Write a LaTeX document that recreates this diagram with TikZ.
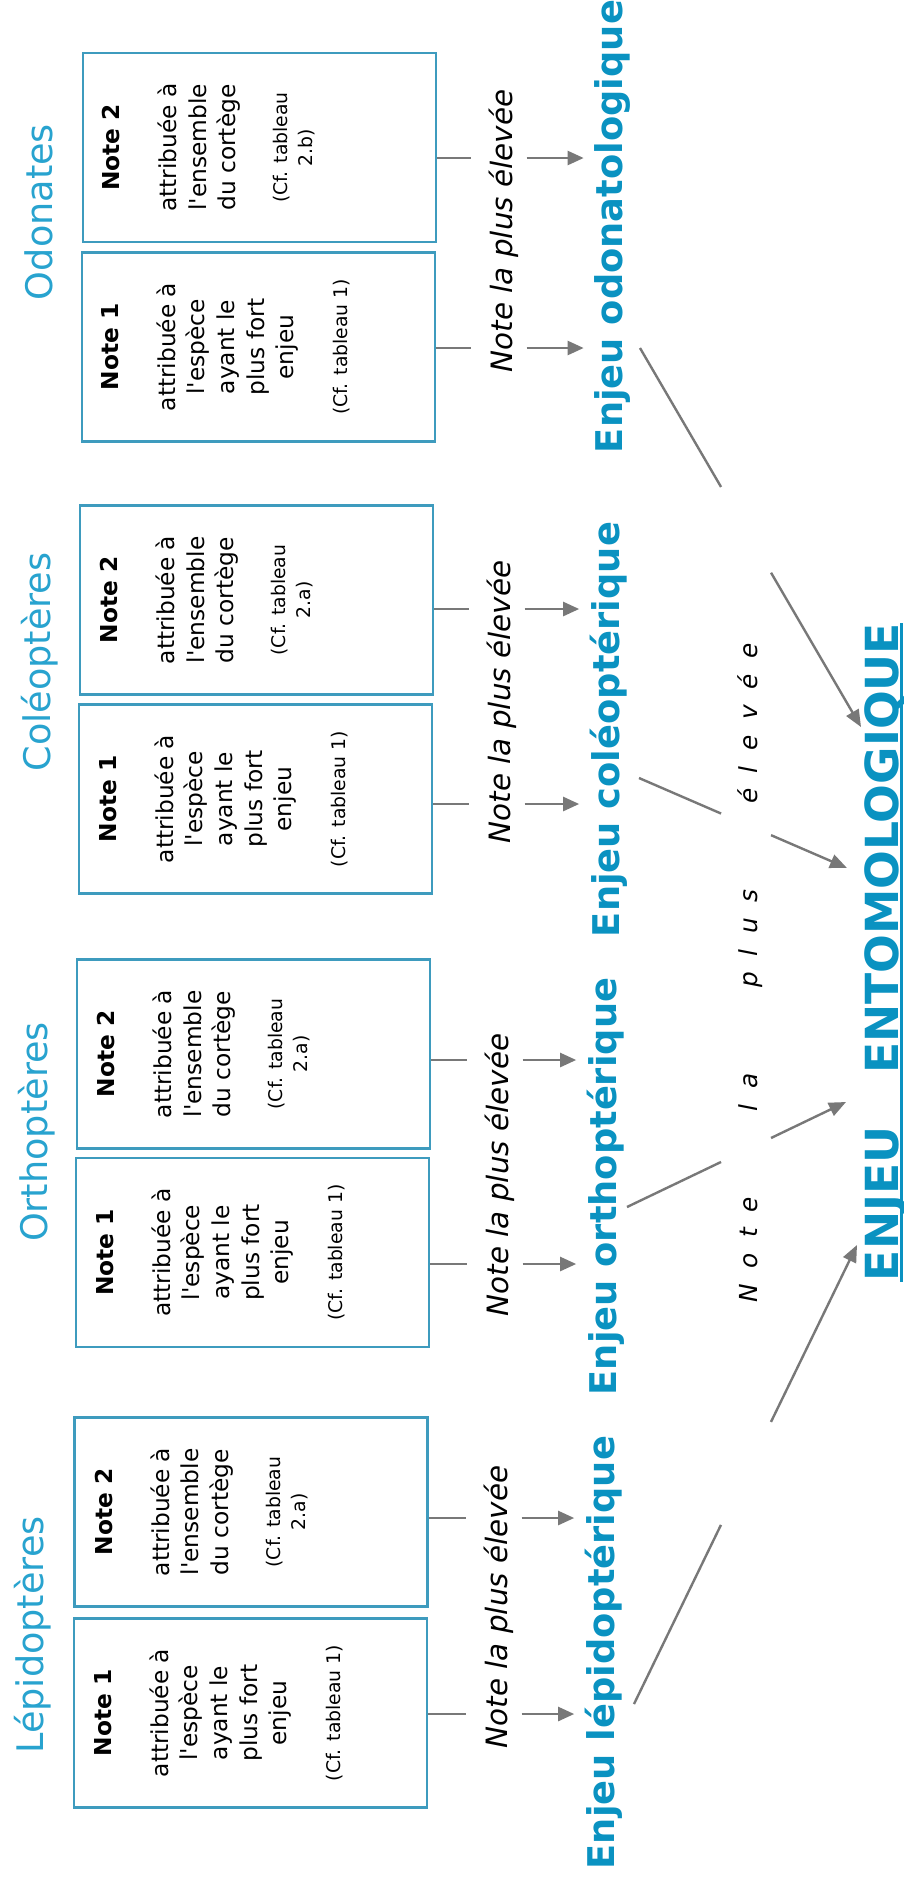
\documentclass[tikz,border=0pt]{standalone}
\usepackage{fontspec}
\setmainfont{DejaVu Sans}[Ligatures=TeXOff]
\usetikzlibrary{arrows.meta,calc}
\newcommand{\lsp}{\hspace{7.75pt}}
\newcommand{\wsp}{\hspace{43pt}}
\newcommand{\cfsize}{\fontsize{9.4}{11}\selectfont}
\begin{document}
\begin{tikzpicture}[x=0.5pt,y=-0.5pt,
  notebox/.style={draw=boxblue,line width=1.1pt,minimum width=176.5pt,minimum height=94.5pt,inner sep=0pt},
  notetext/.style={rotate=90,anchor=north,align=center,inner sep=0pt,font=\fontsize{11.65}{14.8}\selectfont},
  grouplabel/.style={rotate=90,anchor=base,inner sep=0pt,text=titleblue,font=\fontsize{18.3}{22}\selectfont},
  maxnote/.style={rotate=90,anchor=base,inner sep=0pt,font=\fontsize{14.7}{18}\selectfont\itshape},
  enjeulabel/.style={rotate=90,anchor=base,inner sep=0pt,text=enjeublue,font=\fontsize{18.4}{22}\selectfont\bfseries},
  stub/.style={draw=arrowgrey,line width=1.1pt,shorten >=8.5pt},
  arr/.style={draw=arrowgrey,line width=1.2pt,shorten <=4pt,shorten >=5pt,-{Triangle[length=8pt,width=7pt]}},
  diag/.style={draw=arrowgrey,line width=1.2pt}]
\definecolor{boxblue}{RGB}{62,155,190}
\definecolor{titleblue}{RGB}{40,163,207}
\definecolor{enjeublue}{RGB}{10,146,193}
\definecolor{arrowgrey}{RGB}{120,120,120}
\fill[white] (0,0) rectangle (904,1886);
\useasboundingbox (0,0) rectangle (904,1886);
\node[notebox] (od2) at (259.5,147.5) {};
\node[notebox] (od1) at (258.5,347) {};
\node[notebox] (co2) at (256.5,600) {};
\node[notebox] (co1) at (255.5,799) {};
\node[notebox] (or2) at (253.5,1054) {};
\node[notebox] (or1) at (252.5,1252.5) {};
\node[notebox] (le2) at (251,1512) {};
\node[notebox] (le1) at (250.5,1713) {};
\node[notetext] (od2t) at ($(od2.west)+(20,0)$) {\textbf{Note 2}\\[13.7pt]attribuée à\\l'ensemble\\du cortège\\[11.2pt]{\cfsize(Cf. tableau}\\[-2.3pt]{\cfsize 2.b)}};
\node[notetext] (od1t) at ($(od1.west)+(20,0)$) {\textbf{Note 1}\\[13.7pt]attribuée à\\l'espèce\\ayant le\\plus fort\\enjeu\\[12.2pt]{\cfsize(Cf. tableau 1)}};
\node[notetext] (co2t) at ($(co2.west)+(21,0)$) {\textbf{Note 2}\\[13.7pt]attribuée à\\l'ensemble\\du cortège\\[11.2pt]{\cfsize(Cf. tableau}\\[-2.3pt]{\cfsize 2.a)}};
\node[notetext] (co1t) at ($(co1.west)+(21,0)$) {\textbf{Note 1}\\[13.7pt]attribuée à\\l'espèce\\ayant le\\plus fort\\enjeu\\[12.2pt]{\cfsize(Cf. tableau 1)}};
\node[notetext] (or2t) at ($(or2.west)+(21,0)$) {\textbf{Note 2}\\[13.7pt]attribuée à\\l'ensemble\\du cortège\\[11.2pt]{\cfsize(Cf. tableau}\\[-2.3pt]{\cfsize 2.a)}};
\node[notetext] (or1t) at ($(or1.west)+(21,0)$) {\textbf{Note 1}\\[13.7pt]attribuée à\\l'espèce\\ayant le\\plus fort\\enjeu\\[12.2pt]{\cfsize(Cf. tableau 1)}};
\node[notetext] (le2t) at ($(le2.west)+(21,0)$) {\textbf{Note 2}\\[13.7pt]attribuée à\\l'ensemble\\du cortège\\[11.2pt]{\cfsize(Cf. tableau}\\[-2.3pt]{\cfsize 2.a)}};
\node[notetext] (le1t) at ($(le1.west)+(21,0)$) {\textbf{Note 1}\\[13.7pt]attribuée à\\l'espèce\\ayant le\\plus fort\\enjeu\\[12.2pt]{\cfsize(Cf. tableau 1)}};
\node[grouplabel] (god) at (53,212) {Odonates};
\node[grouplabel] (gco) at (50,662) {Coléoptères};
\node[grouplabel] (gor) at (47,1132) {Orthoptères};
\node[grouplabel] (gle) at (43,1635) {Lépidoptères};
\node[maxnote] (mod) at (512,231) {Note la plus élevée};
\node[maxnote] (mco) at (510,702) {Note la plus élevée};
\node[maxnote] (mor) at (508,1175) {Note la plus élevée};
\node[maxnote] (mle) at (507,1607) {Note la plus élevée};
\node[enjeulabel] (eod) at (622,226.5) {Enjeu odonatologique};
\node[enjeulabel] (eco) at (619,729.5) {Enjeu coléoptérique};
\node[enjeulabel] (eor) at (616,1186.5) {Enjeu orthoptérique};
\node[enjeulabel] (ele) at (614,1652.5) {Enjeu lépidoptérique};
\node[rotate=90,anchor=base,inner sep=0pt,text=enjeublue,font=\fontsize{22.8}{26}\selectfont\bfseries] (ent) at (898,952) {ENJEU\hspace{18.5pt} ENTOMOLOGIQUE};
\draw[enjeublue,line width=1.4pt] ($(ent.base west)+(3.5,0)$) -- ($(ent.base east)+(3.5,0)$);
\node[rotate=90,anchor=base,inner sep=0pt,font=\fontsize{12.4}{15}\selectfont\itshape] (mid) at (757,973) {N\lsp o\lsp t\lsp e\wsp l\lsp a\wsp p\lsp l\lsp u\lsp s\wsp é\lsp l\lsp e\lsp v\lsp é\lsp e};
\draw[stub] (od2.east |- 0,158) -- (mod.north |- 0,158);
\draw[stub] (od1.east |- 0,348) -- (mod.north |- 0,348);
\draw[stub] (co2.east |- 0,609) -- (mco.north |- 0,609);
\draw[stub] (co1.east |- 0,804) -- (mco.north |- 0,804);
\draw[stub] (or2.east |- 0,1060) -- (mor.north |- 0,1060);
\draw[stub] (or1.east |- 0,1264) -- (mor.north |- 0,1264);
\draw[stub] (le2.east |- 0,1518) -- (mle.north |- 0,1518);
\draw[stub] (le1.east |- 0,1714) -- (mle.north |- 0,1714);
\draw[arr] (mod.south |- 0,158) -- (eod.north |- 0,158);
\draw[arr] (mod.south |- 0,348) -- (eod.north |- 0,348);
\draw[arr] (mco.south |- 0,609) -- (eco.north |- 0,609);
\draw[arr] (mco.south |- 0,804) -- (eco.north |- 0,804);
\draw[arr] (mor.south |- 0,1060) -- (eor.north |- 0,1060);
\draw[arr] (mor.south |- 0,1264) -- (eor.north |- 0,1264);
\draw[arr] (mle.south |- 0,1518) -- (ele.north |- 0,1518);
\draw[arr] (mle.south |- 0,1714) -- (ele.north |- 0,1714);
\coordinate (g1) at (721,0);
\coordinate (g2) at (721,1886);
\coordinate (g3) at (771,0);
\coordinate (g4) at (771,1886);
\coordinate (s1) at (640,348);
\coordinate (t1) at (861,727);
\coordinate (s2) at (639,778);
\coordinate (t2) at (847,868);
\coordinate (s3) at (627,1207);
\coordinate (t3) at (846,1102);
\coordinate (s4) at (634,1704);
\coordinate (t4) at (857,1245);
\draw[diag] (s1) -- (intersection of s1--t1 and g1--g2);
\draw[diag] (s2) -- (intersection of s2--t2 and g1--g2);
\draw[diag] (s3) -- (intersection of s3--t3 and g1--g2);
\draw[diag] (s4) -- (intersection of s4--t4 and g1--g2);
\draw[diag,-{Triangle[length=8.5pt,width=7pt]}] (intersection of s1--t1 and g3--g4) -- (t1);
\draw[diag,-{Triangle[length=8.5pt,width=7pt]}] (intersection of s2--t2 and g3--g4) -- (t2);
\draw[diag,-{Triangle[length=8.5pt,width=7pt]}] (intersection of s3--t3 and g3--g4) -- (t3);
\draw[diag,-{Triangle[length=8.5pt,width=7pt]}] (intersection of s4--t4 and g3--g4) -- (t4);
\end{tikzpicture}
\end{document}
